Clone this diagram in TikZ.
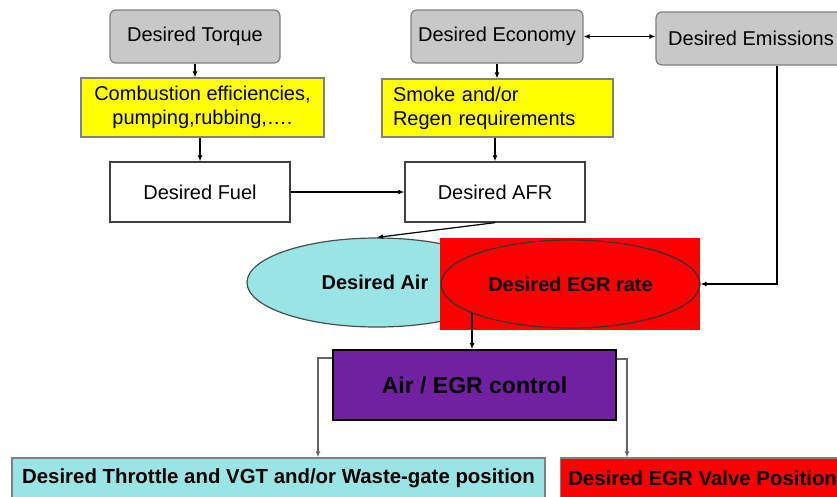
\documentclass[tikz,border=0pt]{standalone}
\usepackage{fontspec}
\setmainfont{Liberation Sans}
\usetikzlibrary{arrows.meta,shapes.geometric}
\definecolor{boxgray}{RGB}{200,200,200}
\definecolor{noteyellow}{RGB}{255,255,0}
\definecolor{aircyan}{RGB}{153,229,229}
\definecolor{egrred}{RGB}{255,0,0}
\definecolor{ctrlpurple}{RGB}{112,32,160}
\tikzset{
  goal/.style={draw=gray, fill=boxgray, rounded corners=6pt, inner sep=0pt,
    font=\fontsize{20}{24}\selectfont},
  note/.style={draw=gray, fill=noteyellow, inner sep=0pt,
    font=\fontsize{20}{24}\selectfont},
  calc/.style={draw=black!75, line width=1.3pt, fill=white, inner sep=0pt,
    minimum width=180pt, minimum height=60pt, font=\fontsize{20}{24}\selectfont},
  blob/.style={ellipse, inner sep=0pt, font=\bfseries\fontsize{20}{24}\selectfont},
  outbox/.style={draw=gray, inner sep=0pt, minimum height=40pt,
    font=\bfseries\fontsize{20.4}{24}\selectfont},
  wire/.style={draw=gray!80!black, line width=1.5pt},
}
\begin{document}
\begin{tikzpicture}[->, >={Latex[length=6pt,width=5pt]}, x=1pt, y=-1pt, line width=1.2pt]
        \useasboundingbox (0,0) rectangle (837,496);
        \node (torque) [goal, minimum width=170pt, minimum height=53pt] at (195,36.5) {Desired Torque};
        \node (econ) [goal, minimum width=172pt, minimum height=53pt] at (497,36.5) {Desired Economy};
        \node (emis) [goal, minimum width=190pt, minimum height=53pt] at (751,38.5) {Desired Emissions};
        \node (eff) [note, minimum width=243pt, minimum height=59pt, align=center] at (202.5,107.5)
          {Combustion efficiencies,\\ pumping,rubbing,….};
        \node (smoke) [note, text width=209pt, inner xsep=11pt, minimum height=58pt, align=left] at (497.5,108)
          {Smoke and/or\\ Regen requirements};
        \node (fuel) [calc] at (200,192) {Desired Fuel};
        \node (afr) [calc] at (495,192) {Desired AFR};
        % air and egr targets
        \node (air) [blob, draw=black!70, fill=aircyan, minimum width=260pt, minimum height=89pt] at (377,282.5) {};
        \fill[egrred] (440,238) rectangle (700,330);
        \node (egr) [blob, draw=black!80, fill=egrred, minimum width=259pt, minimum height=88pt] at (570.5,284) {Desired EGR rate};
        \node at (375,282.5) [font=\bfseries\fontsize{20}{24}\selectfont] {Desired Air};
        \coordinate (egrout) at (472,313);
        \node (ctrl) [draw=black, line width=2pt, fill=ctrlpurple, minimum width=283pt, minimum height=70pt,
          font=\bfseries\fontsize{23}{27}\selectfont] at (474.5,385) {Air / EGR control};
        \node (thr) [outbox, fill=aircyan, minimum width=533pt] at (278.5,478) {Desired Throttle and VGT and/or Waste-gate position};
        \node (valve) [outbox, fill=egrred, minimum width=284pt, anchor=west] at (560,478) {Desired EGR Valve Position};
        \path
        (torque.south) edge (torque.south |- eff.north)
        (fuel.north |- eff.south) edge (fuel.north)
        (econ.south) edge (econ.south |- smoke.north)
        (afr.north |- smoke.south) edge (afr.north)
        (econ.east) edge [<->] (econ.east -| emis.west)
        (fuel) edge (afr)
        (afr.south) edge (air.north)
        (egrout) edge (egrout |- ctrl.north);
        \draw (emis.south -| 777,0) |- (egr.east);
        \draw[wire] (ctrl.west |- 0,358) -| (thr.north -| 318,0);
        \draw[wire] (ctrl.east |- 0,359) -| (valve.north -| 627,0);
    \end{tikzpicture}
\end{document}
